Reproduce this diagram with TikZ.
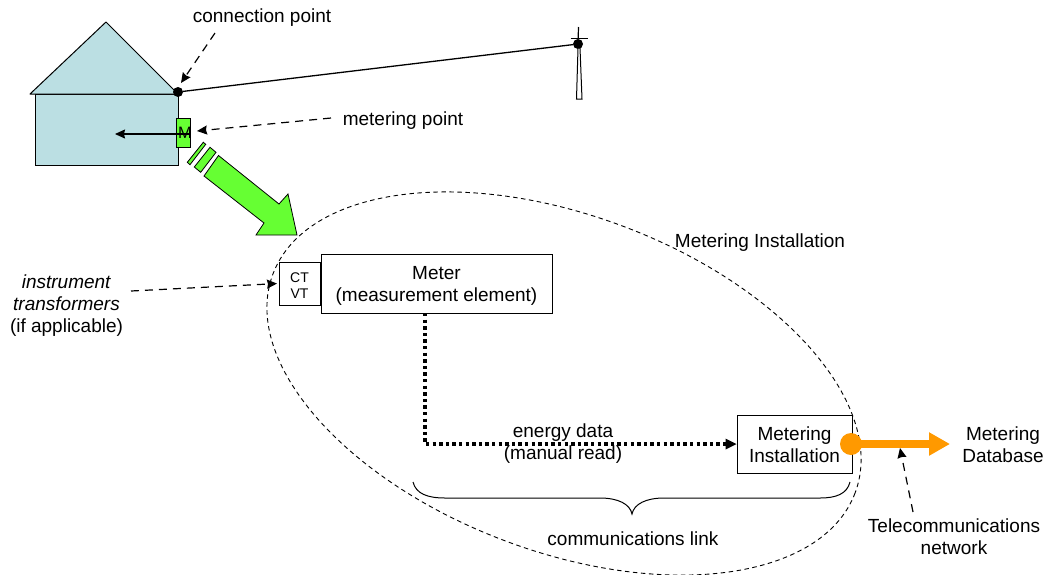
\documentclass[tikz,border=0pt]{standalone}
\usepackage{fontspec}
\setmainfont{Liberation Sans}
\usetikzlibrary{arrows.meta}
\definecolor{housefill}{HTML}{BBDFE3}
\definecolor{mgreen}{HTML}{66FF33}
\definecolor{morange}{HTML}{FF9900}
\tikzset{
  lab/.style={inner sep=0pt,align=center,font=\fontsize{19}{22}\selectfont},
  boxn/.style={draw=black,line width=1pt,fill=white,inner sep=0pt,align=center,font=\fontsize{19}{22}\selectfont},
  dashline/.style={line width=1.2pt,dash pattern=on 8pt off 6pt,-{Stealth[length=10pt,width=9pt,inset=1pt]}},
  dot/.style={circle,fill=black,inner sep=0pt,minimum size=10pt},
  greenp/.style={draw=black,line width=0.8pt,fill=mgreen,line join=miter},
}
\begin{document}
\begin{tikzpicture}[x=1pt,y=-1pt]
\useasboundingbox (0,0) rectangle (1049,574);
% house
\draw[fill=housefill,line width=1pt] (35,94) rectangle (178,165);
\draw[fill=housefill,line width=1pt,line join=round] (30,94) -- (106,22) -- (178,94) -- cycle;
% installation ellipse
\draw[line width=0.9pt,dash pattern=on 4.5pt off 3.5pt,rotate around={-20.6:(564,383.5)}] (564,383.5) ellipse[x radius=311,y radius=168];
% green arrow
\draw[greenp] (204,176) -- (218.5,155.5) -- (279,204) -- (288,194) -- (297,235) -- (256,235) -- (264,223) -- cycle;
\draw[greenp] (194.3,167) -- (210,147.3) -- (216,152.3) -- (200.7,172.3) -- cycle;
\draw[greenp] (187.3,162.3) -- (203.3,142.3) -- (205.7,144.3) -- (190,164.7) -- cycle;
% meter box on wall
\node[draw=black,line width=1pt,fill=mgreen,minimum width=14pt,minimum height=29pt,inner sep=0pt] (mbox) at (183,132.5) {};
\node[inner sep=0pt,font=\fontsize{16.5}{20}\selectfont] (mtext) at (185,133) {M};
\coordinate (mfrom) at (190,134);
\coordinate (mto) at (115,134);
\draw[line width=1.2pt,-{Stealth[length=10pt,width=9pt,inset=1pt]}] (mfrom) -- (mto);
% service line
\node[dot] (conn) at (178,92) {};
\node[dot] (pole) at (578,44) {};
\draw[line width=1.3pt] (conn) -- (pole);
\draw[line width=1pt,fill=white] (576.5,99) -- (582,99) -- (580,48) -- (578,48) -- cycle;
\coordinate (polet) at (578.5,27);
\coordinate (armL) at (570.5,38);
\coordinate (armR) at (588,38);
\draw[line width=1.2pt] (polet) -- (pole);
\draw[line width=0.9pt] (armL) -- (armR);
% labels
\node[lab] (cplab) at (262,18) {connection point};
\node[lab] (mplab) at (403,120.5) {metering point};
\node[lab] (milab) at (760,243) {Metering Installation};
\node[lab] (itlab) at (66.5,306) {\textit{instrument}\\\textit{transformers}\\(if applicable)};
\node[lab] (edlab) at (563,444) {energy data\\(manual read)};
\node[lab] (cllab) at (633,539) {communications link};
\node[lab] (tnlab) at (954,537) {Telecommunications\\network};
\node[lab] (dblab) at (1003,445) {Metering\\Database};
% boxes
\node[boxn,minimum width=231pt,minimum height=59pt] (meter) at (436.5,283.5) {};
\node[lab] (mtxt) at (436.5,286) {Meter\\(measurement element)};
\node[boxn,minimum width=41pt,minimum height=43pt] (ct) at (299.5,283.5) {};
\node[lab,font=\fontsize{14}{16}\selectfont] (cttxt) at (299.5,285.5) {CT\\VT};
\node[boxn,minimum width=115pt,minimum height=58pt] (inst) at (794.5,444) {};
\node[lab] (itxt) at (794.5,444.5) {Metering\\Installation};
% energy link
\coordinate (mbot) at (425,313);
\coordinate (elbow) at (425,444);
\draw[line width=3.4pt,dash pattern=on 3.4pt off 3.2pt] (mbot) -- (elbow) -- (727,444);
\fill (inst.west) -- ++(-11,-5.5) -- ++(0,11) -- cycle;
% orange
\node[circle,fill=morange,inner sep=0pt,minimum size=22pt] (odot) at (851,444) {};
\coordinate (oend) at (950,444);
\draw[morange,line width=8pt,-{Triangle[length=21pt,width=22pt]}] (odot.center) -- (oend);
% dashed pointers
\coordinate (cpfrom) at (215,33);
\coordinate (cpto) at (181,83);
\draw[dashline] (cpfrom) -- (cpto);
\coordinate (mpfrom) at (331,118);
\coordinate (mpto) at (197,131);
\draw[dashline] (mpfrom) -- (mpto);
\coordinate (itfrom) at (131,291);
\draw[dashline,shorten >=1.5pt] (itfrom) -- (ct.west);
\coordinate (tnfrom) at (913,512);
\coordinate (tnto) at (900,448);
\draw[dashline] (tnfrom) -- (tnto);
% brace
\coordinate (brL) at (413,482);
\coordinate (brR) at (850,482);
\coordinate (brT) at (632,514);
\draw[line width=1pt] (brL) .. controls (416,494) and (428,498) .. (445,498) -- (600,498) .. controls (618,498) and (630,504) .. (brT) .. controls (634,504) and (646,498) .. (664,498) -- (820,498) .. controls (836,498) and (847,494) .. (brR);
\end{tikzpicture}
\end{document}
